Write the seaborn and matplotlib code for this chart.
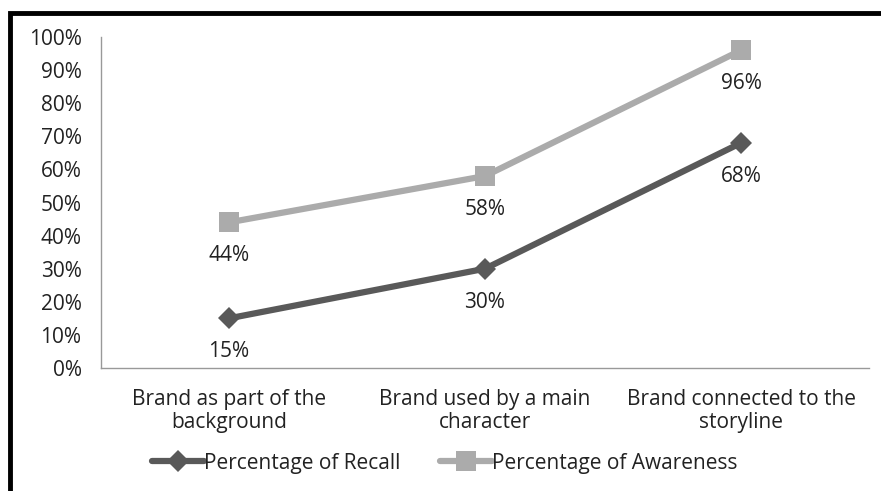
import matplotlib

matplotlib.use("Agg")

import matplotlib.pyplot as plt
import numpy as np
import pandas as pd
import seaborn as sns
from matplotlib.patches import Rectangle
from matplotlib.ticker import PercentFormatter

categories = [
    "Brand as part of the\nbackground",
    "Brand used by a main\ncharacter",
    "Brand connected to the\nstoryline",
]
recall = [0.15, 0.30, 0.68]
awareness = [0.44, 0.58, 0.96]
series_names = ["Percentage of Recall", "Percentage of Awareness"]

df = pd.DataFrame(
    {
        "category": categories * 2,
        "pos": list(range(3)) * 2,
        "value": recall + awareness,
        "series": [series_names[0]] * 3 + [series_names[1]] * 3,
    }
)

sns.set_theme(style="white")
plt.rcParams["font.family"] = ["Open Sans", "DejaVu Sans"]

palette = {series_names[0]: "#595959", series_names[1]: "#ababab"}
markers = {series_names[0]: "D", series_names[1]: "s"}
sizes = {series_names[0]: 11, series_names[1]: 14}
text_color = "#222222"
font_size = 15

figure = plt.figure(figsize=(8.81, 4.91), dpi=100)
axis = figure.add_axes([0.1146, 0.2505, 0.8718, 0.6741])

for name in series_names:
    sub = df[df["series"] == name]
    sns.lineplot(
        data=sub,
        x="pos",
        y="value",
        color=palette[name],
        linewidth=4.5,
        marker=markers[name],
        markersize=sizes[name],
        markeredgewidth=0,
        label=name,
        ax=axis,
    )
    # value labels sit under each marker
    for x, y in zip(sub["pos"], sub["value"]):
        axis.annotate(
            f"{y:.0%}",
            (x, y),
            xytext=(0, -24),
            textcoords="offset points",
            ha="center",
            va="center",
            fontsize=font_size,
            color=text_color,
        )

axis.set_xlim(-0.5, 2.5)
axis.set_ylim(0, 1)
axis.set_yticks(np.arange(0, 1.01, 0.1))
axis.yaxis.set_major_formatter(PercentFormatter(1.0, decimals=0))
axis.set_xticks(range(3))
axis.set_xticklabels(categories, fontsize=font_size, linespacing=1.15)
axis.tick_params(axis="y", labelsize=font_size, length=0, pad=14, colors=text_color)
axis.tick_params(axis="x", length=0, pad=15, colors=text_color)
axis.set_xlabel("")
axis.set_ylabel("")
for side in ["top", "right"]:
    axis.spines[side].set_visible(False)
for side in ["left", "bottom"]:
    axis.spines[side].set_color("#999999")
    axis.spines[side].set_linewidth(1.0)

legend = axis.legend(
    loc="center",
    bbox_to_anchor=(445 / 881, 1 - 463 / 491),
    bbox_transform=figure.transFigure,
    ncol=2,
    frameon=False,
    fontsize=font_size,
    handlelength=2.5,
    handletextpad=0.0,
    columnspacing=1.9,
)
for text in legend.get_texts():
    text.set_color(text_color)

# black frame round the chart area (cut off at right and bottom)
figure.patches.append(
    Rectangle(
        (10 / 881, -0.1), 1.1, 1 - 13 / 491 + 0.1,
        transform=figure.transFigure, fill=False, edgecolor="black", linewidth=3.5,
    )
)

figure.savefig("out.png", dpi=100)
plt.close(figure)
